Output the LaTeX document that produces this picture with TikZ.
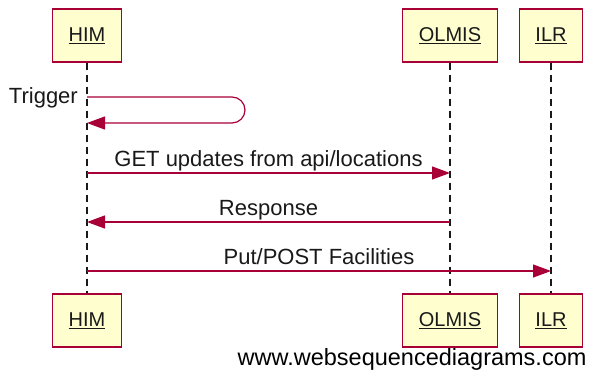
\documentclass[tikz,border=0pt]{standalone}
\usepackage{fontspec}
\setmainfont{Liberation Sans}
\usetikzlibrary{arrows.meta,positioning}
\definecolor{wsdred}{HTML}{A80036}
\definecolor{wsdfill}{HTML}{FEFECE}
\tikzset{
  actor/.style={draw=wsdred, fill=wsdfill, line width=1.2pt, minimum height=53pt,
    inner xsep=16pt, text=black!90, font=\fontsize{20}{24}\selectfont},
  lifeline/.style={draw=black!90, line width=1.6pt, dash pattern=on 7pt off 5pt},
  msg/.style={draw=wsdred, line width=1.2pt, -{Triangle[length=18pt,width=13pt]}},
  msglabel/.style={font=\fontsize{22}{26}\selectfont, text=black!90, inner sep=1pt, text depth=5pt}
}
\begin{document}
\begin{tikzpicture}[x=1pt,y=-1pt]
	%%%%% START %%%%%
	\useasboundingbox (0,0) rectangle (597,375);
	
	\node[actor] (him) at (87,35.5) {\underline{HIM}};
	\node[actor] (olmis) at (450,35.5) {\underline{OLMIS}};
	\node[actor] (ilr) at (551,35.5) {\underline{ILR}};
	
	\node[actor] (himb) at (87,320.5) {\underline{HIM}};
	\node[actor] (olmisb) at (450,320.5) {\underline{OLMIS}};
	\node[actor] (ilrb) at (551,320.5) {\underline{ILR}};
	
	\draw[lifeline] (him) -- (himb);
	\draw[lifeline] (olmis) -- (olmisb);
	\draw[lifeline] (ilr) -- (ilrb);
	
	\coordinate (trigA) at (him |- 0,97);
	\coordinate (trigB) at (him |- 0,123);
	\coordinate (getA) at (him |- 0,173);
	\coordinate (getB) at (olmis |- 0,173);
	\coordinate (respA) at (olmis |- 0,222);
	\coordinate (respB) at (him |- 0,222);
	\coordinate (postA) at (him |- 0,271);
	\coordinate (postB) at (ilr |- 0,271);
	
	\draw[msg, rounded corners=13pt] (trigA) -- (245,97) |- (trigB);
	\node[msglabel, left=8pt of trigA, yshift=-1pt] (trig) {Trigger};
	
	\draw[msg] (getA) -- node[msglabel, above] (get) {GET updates from api/locations} (getB);
	\draw[msg] (respA) -- node[msglabel, above] (resp) {Response} (respB);
	\draw[msg] (postA) -- node[msglabel, above] (post) {Put/POST Facilities} (postB);
	
	\node[font=\fontsize{23.5}{28}\selectfont, anchor=east] (wsd) at (590,359) {www.websequencediagrams.com};
	%%%%% END %%%%%
\end{tikzpicture}
\end{document}
